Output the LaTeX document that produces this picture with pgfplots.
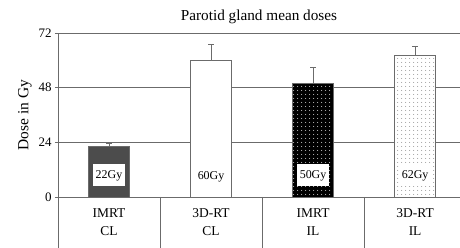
\documentclass[border=0pt]{standalone}
\usepackage{pgfplots}
\pgfplotsset{compat=1.18}
\usepackage{fontspec}
\setmainfont{Liberation Serif}
\usetikzlibrary{patterns.meta,calc}

\tikzdeclarepattern{
  name=mydots,
  type=uncolored,
  bottom left={(0bp,0bp)},
  top right={(4bp,4bp)},
  tile size={(4bp,4bp)},
  code={\pgfpathcircle{\pgfpoint{2bp}{2bp}}{0.6bp}\pgfusepath{fill}}
}

\definecolor{linegray}{gray}{0.42}
\definecolor{bargray}{gray}{0.30}

\pgfplotstableread{
x y err
0 22 1.5
}\imrtcl
\pgfplotstableread{
x y err
1 60 7.2
}\dcl
\pgfplotstableread{
x y err
2 50 6.7
}\imrtil
\pgfplotstableread{
x y err
3 62 4.0
}\dil

\begin{document}
\begin{tikzpicture}
\begin{axis}[
  name=ax,
  scale only axis, width=402bp, height=164bp,
  xmin=-0.5, xmax=3.44, ymin=0, ymax=72,
  axis x line=bottom, axis y line=left,
  axis line style={-, draw=linegray, line width=0.8pt},
  ytick={0,24,48,72}, ymajorgrids,
  grid style={draw=linegray, line width=0.8pt},
  tick align=outside, major tick length=3bp,
  tick style={draw=linegray, line width=0.8pt},
  xtick={0,1,2,3},
  xticklabels={{IMRT\\CL},{3D-RT\\CL},{IMRT\\IL},{3D-RT\\IL}},
  x tick label style={align=center, font=\fontsize{13.5}{18}\selectfont, yshift=-5bp},
  xtick style={draw=none},
  yticklabel style={font=\fontsize{13}{15}\selectfont},
  /pgf/number format/assume math mode=true,
  title={Parotid gland mean doses},
  title style={font=\fontsize{15.3}{18}\selectfont, yshift=0bp},
  ylabel={Dose in Gy},
  ylabel style={font=\fontsize{15.5}{18}\selectfont},
  clip=false,
  every axis plot/.append style={ybar, bar width=0.4, bar shift=0pt, draw=linegray, line width=0.8pt,
     error bars/y dir=plus, error bars/y explicit,
     error bars/error bar style={draw=linegray, line width=0.8pt},
     error bars/error mark options={rotate=90, mark size=3bp, draw=linegray, line width=0.8pt}},
]
\addplot[fill=bargray] table[x=x, y=y, y error=err] {\imrtcl};
\addplot[fill=white] table[x=x, y=y, y error=err] {\dcl};
\addplot[fill=black, postaction={pattern=mydots, pattern color=white}] table[x=x, y=y, y error=err] {\imrtil};
\addplot[fill=white, postaction={pattern=mydots, pattern color=gray}] table[x=x, y=y, y error=err] {\dil};

\node[fill=white, minimum width=32bp, minimum height=22bp, inner sep=1bp, font=\fontsize{12}{14}\selectfont] at (axis cs:0,9.5) {22Gy};
\node[minimum width=32bp, minimum height=22bp, inner sep=1bp, font=\fontsize{12}{14}\selectfont] at (axis cs:1,9) {60Gy};
\node[fill=white, minimum width=32bp, minimum height=22bp, inner sep=1bp, font=\fontsize{12}{14}\selectfont] at (axis cs:2,9.5) {50Gy};
\node[fill=white, minimum width=32bp, minimum height=22bp, inner sep=1bp, font=\fontsize{12}{14}\selectfont] at (axis cs:3,9.5) {62Gy};

\draw[linegray, line width=0.8pt] (axis cs:-0.5,0) -- ++(0pt,-51bp);
\draw[linegray, line width=0.8pt] (axis cs:0.5,0) -- ++(0pt,-51bp);
\draw[linegray, line width=0.8pt] (axis cs:1.5,0) -- ++(0pt,-51bp);
\draw[linegray, line width=0.8pt] (axis cs:2.5,0) -- ++(0pt,-51bp);
\end{axis}
\pgfresetboundingbox
\useasboundingbox ($(ax.south west)+(-58bp,-51bp)$) rectangle ($(ax.north east)+(0,33bp)$);
\end{tikzpicture}
\end{document}
